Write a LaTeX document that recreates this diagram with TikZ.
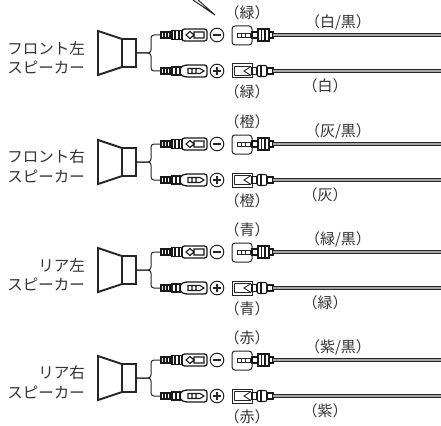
\documentclass[tikz,border=0pt]{standalone}
\usepackage{fontspec}
\setmainfont{Noto Sans CJK JP}
\tikzset{
  ln/.style={draw=black!85,line width=1pt},
  thn/.style={draw=black!90,line width=1.1pt},
  spk/.style={draw=black!85,line width=1.9pt,line join=miter},
  lbl/.style={font=\fontsize{15}{16}\selectfont,text=black!80,inner sep=0pt},
  spklbl/.style={font=\fontsize{15.5}{16}\selectfont,text=black!80,inner sep=0pt,anchor=east},
  wireo/.style={line width=4pt,draw=black!85},
  wirei/.style={line width=2pt,draw=black!35},
  fsock/.pic={
    \draw[thn] (0,-3) rectangle (11,3) (3,-3)--(3,3) (6,-3)--(6,3) (9,-3)--(9,3);
    \draw[thn] (11,-4.5) rectangle (21,4.5) (14,-4.5)--(14,4.5) (18,-4.5)--(18,4.5);
    \draw[thn,line width=1.3pt,rounded corners=2.5] (21,-6) rectangle (46,6);
    \draw[thn] (25,0)--(29,-3.5)--(33,0)--(29,3.5)--cycle (33,-3) rectangle (43,3);
  },
  mplug/.pic={
    \draw[thn] (0,-3) rectangle (11,3) (3,-3)--(3,3) (6,-3)--(6,3) (9,-3)--(9,3);
    \draw[thn] (11,-4) rectangle (19,4) (15,-4)--(15,4);
    \draw[thn,line width=1.3pt,rounded corners=2.5] (19,-3.5) -- (24,-6) -- (46,-6) -- (46,6) -- (24,6) -- (19,3.5) -- cycle;
    \draw[thn] (27,-2.5) -- (39,-2.5) -- (43,0) -- (39,2.5) -- (27,2.5) -- cycle (31,-2.5)--(31,2.5) (35,-2.5)--(35,2.5);
  },
  fhouse/.pic={
    \draw[ln,rounded corners=3] (0,-9) rectangle (20,10);
    \draw[ln,line width=0.9pt] (5,-2) rectangle (18,2) (9,-2)--(9,2) (13,-2)--(13,2);
    \draw[thn] (20,-3) rectangle (26,3);
    \draw[thn] (26,-6) rectangle (37,6) (29.5,-6)--(29.5,6) (33,-6)--(33,6);
    \draw[thn] (37,-3) rectangle (41,3);
  },
  mhouse/.pic={
    \draw[ln] (0,-7) rectangle (20,7);
    \draw[ln,line width=0.9pt] (2.5,-4.5) -- (19,-4.5) (2.5,4.5)--(19,4.5) (2.5,-4.5)--(2.5,4.5) (19,-4.5)--(12,0)--(19,4.5);
    \draw[thn] (20,-3.5) rectangle (25,3.5);
    \draw[thn,rounded corners=2] (25,-5.5) rectangle (35,5.5);
    \draw[thn] (29,-5.5)--(29,5.5);
    \draw[thn] (35,-3) rectangle (41,3);
  }
}
\begin{document}
\begin{tikzpicture}[x=1pt,y=-1pt]
\fill[white] (0,0) rectangle (441,425);
\useasboundingbox (0,0) rectangle (441,425);
\coordinate (tipA) at (193,0);
\coordinate (tipB) at (198,0);
\coordinate (tip) at (215,15);
\draw[ln] (tipA) -- (tip) -- (tipB);
\foreach \m/\ta/\wb/\wp/\sa [count=\i] in {35/緑/白/白/フロント左, 144/橙/灰/灰/フロント右, 252/青/緑/緑/リア左, 360/赤/紫/紫/リア右}{
  \pgfmathsetmacro\p{\m+36}
  \pgfmathsetmacro\c{\m+18}
  % speaker
  \draw[spk] (98,\c-22) -- (122,\c-14) -- (122,\c+14) -- (98,\c+22) -- cycle;
  \draw[spk] (122,\c-14) rectangle (136,\c+14);
  \coordinate (so\i) at (136,\c);
  \coordinate (mi\i) at (161,\m);
  \coordinate (pi\i) at (161,\p);
  \draw[ln,rounded corners=3] (so\i) -- (151,\c) |- (mi\i);
  \draw[ln,rounded corners=3] (so\i) -- (151,\c) |- (pi\i);
  \pic at (mi\i) {fsock};
  \pic at (pi\i) {mplug};
  % signs
  \draw[ln] (217,\m) circle (6.8);
  \draw[ln,line width=1.3pt] (213.3,\m) -- (220.7,\m);
  \draw[ln] (217,\p) circle (6.8);
  \draw[ln,line width=1.4pt] (213.3,\p) -- (220.7,\p) (217,\p-3.7) -- (217,\p+3.7);
  % wire side
  \coordinate (hm\i) at (232,\m);
  \coordinate (hp\i) at (232,\p);
  \pic at (hm\i) {fhouse};
  \pic at (hp\i) {mhouse};
  \coordinate (wm\i) at (273,\m);
  \coordinate (wp\i) at (273,\p);
  \coordinate (em\i) at (441,\m);
  \coordinate (ep\i) at (441,\p);
  \draw[wireo] (wm\i) -- (em\i);
  \draw[wirei] (wm\i) -- (em\i);
  \draw[wireo] (wp\i) -- (ep\i);
  \draw[wirei] (wp\i) -- (ep\i);
  % labels
  \node[lbl] (ta\i) at (247,\m-22) {（\ta）};
  \node[lbl] (tb\i) at (247,\p+21) {（\ta）};
  \node[lbl] (wb\i) at (338,\m-13) {（\wb/黒）};
  \node[lbl] (wq\i) at (325,\p+15) {（\wp）};
  \node[spklbl] (sa\i) at (85,\c-5) {\sa};
  \node[spklbl] (sb\i) at (85,\c+14) {スピーカー};
}
\end{tikzpicture}
\end{document}
